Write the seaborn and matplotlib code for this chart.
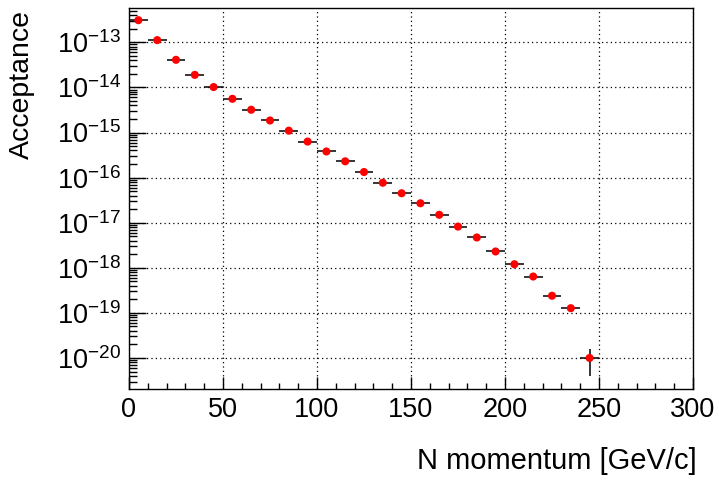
import numpy as np
import pandas as pd
import matplotlib
matplotlib.use("Agg")
import matplotlib.pyplot as plt
from matplotlib.ticker import MultipleLocator, LogLocator, FixedLocator, NullFormatter
import seaborn as sns

# Bin centres of the N momentum histogram [GeV/c]
momentum = [5, 15, 25, 35, 45, 55, 65, 75, 85, 95, 105, 115, 125,
            135, 145, 155, 165, 175, 185, 195, 205, 215, 225, 235, 245]
# Acceptance per bin
acceptance = [3.1e-13, 1.12e-13, 4.1e-14, 1.9e-14, 1.02e-14, 5.6e-15,
              3.2e-15, 1.85e-15, 1.1e-15, 6.3e-16, 3.8e-16, 2.3e-16,
              1.33e-16, 7.7e-17, 4.5e-17, 2.7e-17, 1.5e-17, 8.2e-18,
              4.7e-18, 2.3e-18, 1.2e-18, 6.4e-19, 2.4e-19, 1.27e-19,
              1.0e-20]
# Statistical uncertainty on the acceptance
acceptance_err = [0, 0, 0, 0, 0, 0, 0, 0, 0, 0, 0, 0, 0,
                  0, 0, 0, 0, 0, 0, 0, 0, 0, 0, 0, 6e-21]
# Half of the 10 GeV/c bin width
bin_half_width = 5.0

df = pd.DataFrame({"p": momentum, "acc": acceptance, "err": acceptance_err})

sns.set_theme(style="white")
plt.rcParams["font.family"] = ["Liberation Sans", "DejaVu Sans"]
plt.rcParams["mathtext.fontset"] = "custom"
plt.rcParams["mathtext.rm"] = "Liberation Sans"
plt.rcParams["mathtext.it"] = "Liberation Sans:italic"
plt.rcParams["mathtext.bf"] = "Liberation Sans:bold"
plt.rcParams["text.color"] = "black"
plt.rcParams["axes.labelcolor"] = "black"
plt.rcParams["xtick.color"] = "black"
plt.rcParams["ytick.color"] = "black"

fig = plt.figure(figsize=(7.19, 4.80), dpi=100)
ax = fig.add_axes([129 / 719, 1 - 389 / 480, (693 - 129) / 719, (389 - 8) / 480])

ax.errorbar(df["p"], df["acc"], xerr=bin_half_width, yerr=df["err"],
            fmt="none", ecolor="black", elinewidth=1.1, capsize=0, zorder=2)
sns.scatterplot(data=df, x="p", y="acc", ax=ax, color="#ff0000",
                s=34, edgecolor="none", linewidth=0, zorder=3, legend=False)

ax.set_yscale("log")
ax.set_xlim(0, 300)
ymin, ymax = 2.05e-21, 5.78e-13
ax.set_ylim(ymin, ymax)

ax.xaxis.set_major_locator(MultipleLocator(50))
ax.xaxis.set_minor_locator(MultipleLocator(10))
# decade ticks restricted to the visible range
decades = 10.0 ** np.arange(np.ceil(np.log10(ymin)), np.floor(np.log10(ymax)) + 1)
ax.yaxis.set_major_locator(FixedLocator(decades))
ax.yaxis.set_minor_locator(LogLocator(base=10, subs=np.arange(2, 10), numticks=20))
ax.yaxis.set_minor_formatter(NullFormatter())

ax.tick_params(axis="both", which="both", direction="in", color="black",
               labelcolor="black", bottom=True, left=True, top=False, right=False)
ax.tick_params(axis="x", which="major", length=9, width=1.0, pad=6, labelsize=19.5)
ax.tick_params(axis="x", which="minor", length=4.5, width=1.0)
ax.tick_params(axis="y", which="major", length=12, width=1.0, pad=6, labelsize=19.5)
ax.tick_params(axis="y", which="minor", length=6, width=1.0)

ax.grid(True, which="major", color="black", linestyle=(0, (1, 2.5)), linewidth=0.9)
for sp in ax.spines.values():
    sp.set_color("black")
    sp.set_linewidth(1.0)
    sp.set_visible(True)

ax.set_xlabel("N momentum [GeV/c]", fontsize=21, loc="right", color="black")
ax.xaxis.set_label_coords(1.007, -0.152)
ax.set_ylabel("Acceptance", fontsize=20.5, loc="top", color="black")
ax.yaxis.set_label_coords(-0.166, 0.995)

fig.savefig("out.png", dpi=100, facecolor="white")
